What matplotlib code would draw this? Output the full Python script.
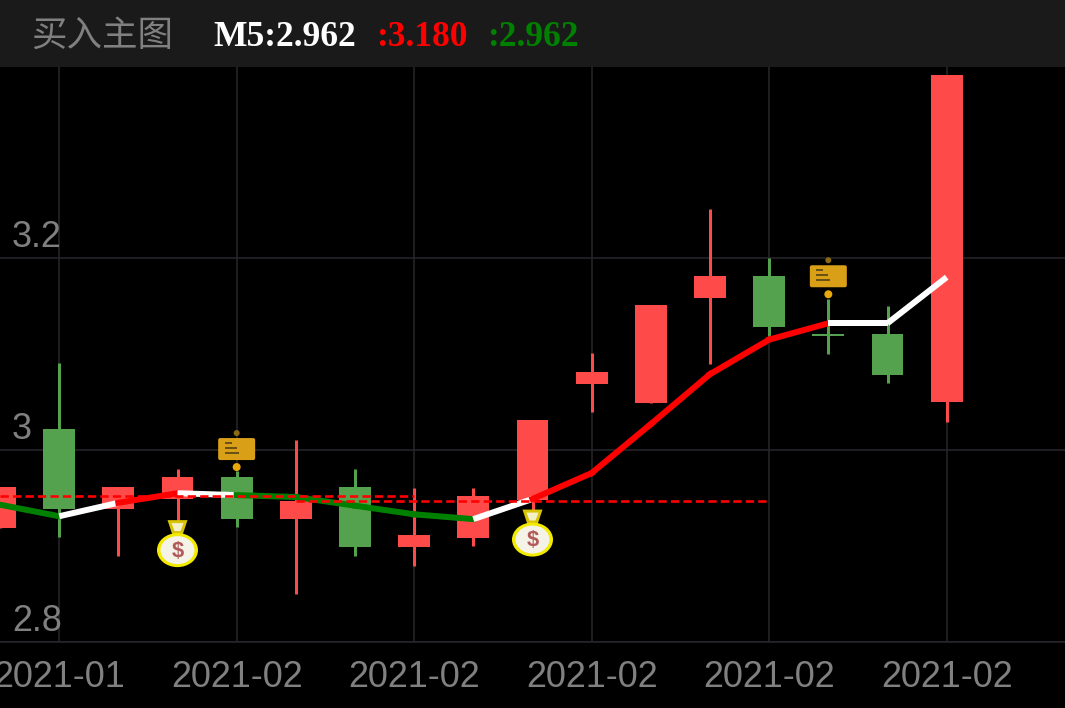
import matplotlib
matplotlib.use("Agg")
import matplotlib.pyplot as plt
import matplotlib.transforms as mtrans
from matplotlib.offsetbox import AnnotationBbox, DrawingArea
from matplotlib.patches import Circle, Ellipse, FancyBboxPatch, Polygon, Rectangle
from matplotlib.text import Text

# candles
opens = [2.919, 3.022, 2.939, 2.949, 2.972, 2.928, 2.961, 2.899, 2.908,
         2.948, 3.069, 3.049, 3.158, 3.181, 3.121, 3.121, 3.050]
closes = [2.961, 2.939, 2.961, 2.972, 2.928, 2.947, 2.899, 2.911, 2.952,
          3.031, 3.081, 3.151, 3.181, 3.128, 3.119, 3.078, 3.391]
highs = [2.961, 3.091, 2.961, 2.980, 2.978, 3.010, 2.980, 2.960, 2.960,
         3.031, 3.101, 3.151, 3.251, 3.200, 3.157, 3.150, 3.391]
lows = [2.919, 2.909, 2.890, 2.926, 2.920, 2.850, 2.890, 2.879, 2.900,
        2.938, 3.040, 3.049, 3.090, 3.115, 3.100, 3.070, 3.029]

# moving average and the colour of each stretch
ma5 = [2.943, 2.931, 2.945, 2.955, 2.953, 2.951, 2.942, 2.933, 2.928,
       2.949, 2.976, 3.027, 3.079, 3.115, 3.132, 3.132, 3.180]
ma_colors = ["green", "white", "red", "white", "green", "green", "green", "green",
             "white", "red", "red", "red", "red", "red", "white", "white"]

# dashed levels: value, first index, last index
level_values = [2.9516, 2.9464]
level_starts = [0, 5]
level_ends = [7, 13]

# signals
buy_idx = [3, 9]
buy_prices = [2.903, 2.914]
sign_idx = [4, 14]
sign_prices = [3.001, 3.181]

x_ticks = [1, 4, 7, 10, 13, 16]
x_labels = ["2021-01", "2021-02", "2021-02", "2021-02", "2021-02", "2021-02"]
y_ticks = [2.8, 3.0, 3.2]
y_labels = ["2.8", "3", "3.2"]

W, H = 1065, 708
UP = "#ff4a4a"
DOWN = "#54a24e"
GRID = "#26262b"
GRAY = "#808080"

plt.rcParams["font.family"] = ["Liberation Sans", "DejaVu Sans"]


def money_bag():
    da = DrawingArea(44, 48, 0, 0)
    da.add_artist(Polygon([(12, 47), (32, 47), (27, 32), (17, 32)], fc="#d8c400", ec="none"))
    da.add_artist(Polygon([(16, 44), (28, 44), (25, 36), (19, 36)], fc="#f4f0c8", ec="none"))
    da.add_artist(Ellipse((22, 17), 41, 34, fc="#f2ea00", ec="none"))
    da.add_artist(Ellipse((22, 17), 34, 28, fc="#f5f2e8", ec="none"))
    da.add_artist(Text(22, 16, "$", color="#b25a5a", fontsize=22, fontweight="bold",
                       ha="center", va="center", parse_math=False))
    return da


def sign_board():
    da = DrawingArea(38, 42, 0, 0)
    da.add_artist(Circle((19, 39), 3, fc="#8a6a12", ec="none"))
    da.add_artist(FancyBboxPatch((0.5, 12), 37, 22, boxstyle="round,pad=0,rounding_size=2",
                                 fc="#d9a017", ec="none"))
    for y_off, w in zip([28, 23, 18], [7, 12, 14]):
        da.add_artist(Rectangle((7, y_off), w, 2.5, fc="#6a5214", ec="none"))
    da.add_artist(Circle((19, 5), 4, fc="#e8a80c", ec="none"))
    return da


fig = plt.figure(figsize=(W / 72, H / 72), dpi=72, facecolor="black")
ax = fig.add_axes([0, (H - 642) / H, 1, (642 - 67) / H], facecolor="black")

# header band
fig.patches.append(Rectangle((0, (H - 67) / H), 1, 67 / H, transform=fig.transFigure,
                             fc="#1a1a1a", ec="none"))
fig.text(31 / W, 1 - 46 / H, "买入主图", color=GRAY, fontsize=35.5, family=["Noto Sans CJK SC"],
         va="baseline")
for x_px, txt, col in [(213, "M5:2.962", "white"), (376, ":3.180", "red"), (487, ":2.962", "green")]:
    fig.text(x_px / W, 1 - 46 / H, txt, color=col, fontsize=35.5, family="Liberation Serif",
             fontweight="bold", va="baseline")

# candles
for i in range(len(opens)):
    color = UP if closes[i] >= opens[i] else DOWN
    ax.vlines(i, lows[i], highs[i], color=color, lw=3, zorder=2)
    bottom = min(opens[i], closes[i])
    ax.bar(i, abs(closes[i] - opens[i]), bottom=bottom, width=0.54, color=color, zorder=3)

# MA line, one piece per colour
for i, col in enumerate(ma_colors):
    ax.plot([i, i + 1], [ma5[i], ma5[i + 1]], color=col, lw=6, zorder=4,
            solid_capstyle="projecting" if col != "white" else "butt")

for val, start, end in zip(level_values, level_starts, level_ends):
    ax.plot([start, end], [val, val], color="red", lw=2.6, zorder=5, linestyle=(0, (3.2, 1.6)))

for idx, price in zip(buy_idx, buy_prices):
    ax.add_artist(AnnotationBbox(money_bag(), (idx, price), frameon=False, pad=0,
                                 box_alignment=(0.5, 0.5), zorder=6))
for idx, price in zip(sign_idx, sign_prices):
    ax.add_artist(AnnotationBbox(sign_board(), (idx, price), frameon=False, pad=0,
                                 box_alignment=(0.5, 0.548), zorder=6))

ax.set_xlim(0, 18)
ax.set_ylim(2.8, 3 + (450 - 67) / 960)
ax.set_xticks(x_ticks, x_labels)
ax.set_yticks(y_ticks, y_labels)
ax.grid(True, color=GRID, lw=1.6, zorder=0)
ax.set_axisbelow(True)
ax.tick_params(axis="x", length=0, pad=18, labelsize=36, labelcolor=GRAY)
ax.tick_params(axis="y", length=0, pad=-12, labelsize=36, labelcolor=GRAY)

up_shift = mtrans.ScaledTranslation(0, 3 / 72, fig.dpi_scale_trans)
for lab in ax.get_yticklabels():
    lab.set_ha("left")
    lab.set_va("bottom")
    lab.set_transform(lab.get_transform() + up_shift)

for side in ["top", "left", "right"]:
    ax.spines[side].set_visible(False)
ax.spines["bottom"].set_color(GRID)
ax.spines["bottom"].set_linewidth(1.6)

fig.savefig("out.png", dpi=72, facecolor="black")
